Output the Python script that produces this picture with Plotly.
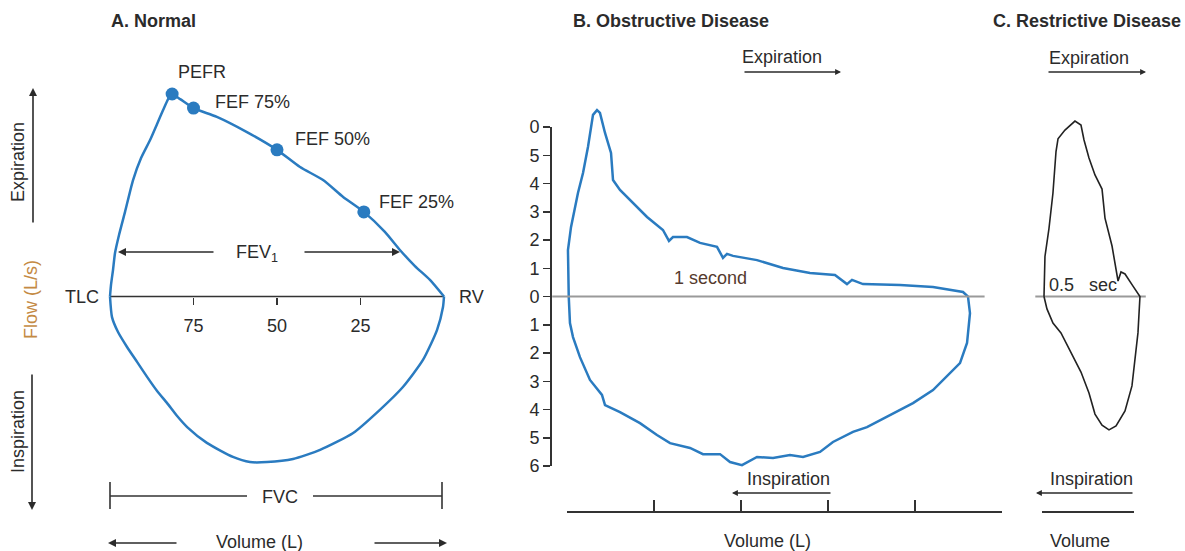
import plotly.graph_objects as go

W, H = 1185, 551
FONT = "Liberation Sans, Arial, sans-serif"
TXT = "#2b2b2b"
BLUE = "#2a7bc0"


def px(x):
    return x / W


def py(y):
    return 1 - y / H


# ---------------- data ----------------
# Panel A (normal): volume in % of FVC (100 = TLC, 0 = RV), flow in L/s
a_exp_vol = [100, 99.7, 99.1, 98.5, 97.3, 95.5, 93.1, 90.7, 88.0, 85.9, 84.1, 82.6, 81.4,
             79.0, 75.0, 68.0, 59.0, 50.0, 43.1, 36.2, 30.2, 24.0, 17.7, 13.2, 8.7, 4.2, 0]
a_exp_flow = [0, 0.41, 0.94, 1.54, 2.18, 3.0, 4.13, 4.91, 5.55, 6.12, 6.61, 7.0, 7.18,
              7.0, 6.68, 6.37, 5.83, 5.20, 4.59, 4.13, 3.53, 3.0, 2.29, 1.65, 1.08, 0.59, 0]
a_insp_vol = [100, 99.4, 97.6, 94.9, 91.9, 88.9, 85.9, 82.9, 79.9, 76.9, 71.0, 63.2, 58.1,
              53.0, 45.2, 37.1, 27.2, 19.2, 12.3, 6.3, 2.1, 0.3, 0]
a_insp_flow = [0, -0.73, -1.26, -1.79, -2.32, -2.85, -3.35, -3.78, -4.24, -4.63, -5.19, -5.69,
               -5.87, -5.87, -5.76, -5.44, -4.84, -4.02, -3.21, -2.25, -1.19, -0.37, 0]
a_point_names = ["PEFR", "FEF 75%", "FEF 50%", "FEF 25%"]
a_point_vol = [81.4, 75.0, 50.0, 24.0]
a_point_flow = [7.18, 6.68, 5.20, 3.00]
a_tick_vals = [75, 50, 25]
a_zero_vol = [100, 0]

# Panel B (obstructive): volume in L from TLC, flow in L/s
b_vol = [0.02, 0.011, 0.011, 0.046, 0.080, 0.126, 0.184, 0.241, 0.299, 0.345, 0.379, 0.437,
         0.506, 0.529, 0.609, 0.759, 0.920, 1.103, 1.172, 1.218, 1.379, 1.529, 1.724, 1.793,
         1.839, 1.908, 2.184, 2.483, 2.793, 3.080, 3.218, 3.276, 3.402, 3.828, 4.207, 4.552,
         4.609, 4.632, 4.598, 4.517, 4.402, 4.207, 3.977, 3.713, 3.448, 3.287, 3.057, 2.908,
         2.713, 2.563, 2.368, 2.184, 2.011, 1.874, 1.759, 1.563, 1.414, 1.184, 1.034, 0.839,
         0.609, 0.437, 0.402, 0.264, 0.149, 0.069, 0.034, 0.02]
b_flow = [0, 0.94, 1.65, 2.46, 2.96, 3.67, 4.38, 5.30, 6.44, 6.61, 6.51, 5.80,
          5.09, 4.13, 3.78, 3.32, 2.82, 2.36, 1.97, 2.11, 2.11, 1.90, 1.76, 1.37,
          1.51, 1.44, 1.29, 1.01, 0.83, 0.76, 0.44, 0.59, 0.44, 0.41, 0.34, 0.16,
          0, -0.59, -1.65, -2.36, -2.71, -3.32, -3.78, -4.20, -4.63, -4.80, -5.16, -5.51,
          -5.69, -5.62, -5.73, -5.69, -5.98, -5.87, -5.59, -5.59, -5.37, -5.20, -4.91, -4.49,
          -4.10, -3.85, -3.49, -2.96, -2.15, -1.44, -0.94, 0]
b_flow_ticks = [-6, -5, -4, -3, -2, -1, 0, 1, 2, 3, 4, 5, 6]
b_flow_ticktext = ["6", "5", "4", "3", "2", "1", "0", "1", "2", "3", "4", "5", "0"]
b_vol_ticks = [0, 1, 2, 3, 4, 5]
b_zero_vol = [-0.17, 4.80]

# Panel C (restrictive): volume in L, flow in L/s
c_vol = [0, 0.011, 0.057, 0.103, 0.138, 0.161, 0.241, 0.356, 0.425, 0.460, 0.517, 0.586,
         0.667, 0.701, 0.782, 0.828, 0.851, 0.885, 0.931, 1.023, 1.103, 1.080, 1.046, 1.011,
         0.931, 0.828, 0.747, 0.667, 0.586, 0.517, 0.425, 0.299, 0.195, 0.103, 0.034, 0]
c_flow = [0, 1.42, 2.41, 3.67, 5.14, 5.59, 5.90, 6.22, 6.08, 5.55, 4.91, 4.31,
          3.81, 2.78, 1.79, 1.05, 0.55, 0.87, 0.80, 0.37, 0, -1.29, -2.18, -3.17,
          -4.06, -4.59, -4.73, -4.56, -4.17, -3.42, -2.68, -1.93, -1.29, -0.94, -0.44, 0]
c_zero_vol = [-0.10, 1.17]
c_bracket_ticks = [0, 1]

# ---------------- scales (layout only) ----------------
ZERO_PX, FLOW_PX = 296.5, 28.2
y_range = [(ZERO_PX - H) / FLOW_PX, ZERO_PX / FLOW_PX]


def a_vol_at(p):
    return 100 - (p - 110) / 3.34


def b_vol_at(p):
    return (p - 567) / 87.0


def c_vol_at(p):
    return (p - 1044) / 87.0


fig = go.Figure()
common = dict(hoverinfo="skip", showlegend=False)

# Panel A
fig.add_trace(go.Scatter(x=a_zero_vol, y=[0, 0], mode="lines",
                         line=dict(color="#333333", width=1.5), xaxis="x", yaxis="y", **common))
fig.add_trace(go.Scatter(x=a_exp_vol, y=a_exp_flow, mode="lines",
                         line=dict(color=BLUE, width=2.5, shape="spline", smoothing=0.6),
                         xaxis="x", yaxis="y", **common))
fig.add_trace(go.Scatter(x=a_insp_vol, y=a_insp_flow, mode="lines",
                         line=dict(color=BLUE, width=2.5, shape="spline", smoothing=0.6),
                         xaxis="x", yaxis="y", **common))
fig.add_trace(go.Scatter(x=a_point_vol, y=a_point_flow, mode="markers",
                         marker=dict(color=BLUE, size=13), xaxis="x", yaxis="y", **common))

# Panel B
fig.add_trace(go.Scatter(x=b_zero_vol, y=[0, 0], mode="lines",
                         line=dict(color="#9a9a9a", width=2), xaxis="x2", yaxis="y2", **common))
fig.add_trace(go.Scatter(x=b_vol, y=b_flow, mode="lines",
                         line=dict(color=BLUE, width=2.5), xaxis="x2", yaxis="y", **common))
fig.add_trace(go.Scatter(x=b_vol_ticks, y=[None] * len(b_vol_ticks), mode="markers",
                         marker=dict(opacity=0), xaxis="x3", yaxis="y", **common))

# Panel C
fig.add_trace(go.Scatter(x=c_zero_vol, y=[0, 0], mode="lines",
                         line=dict(color="#9a9a9a", width=2), xaxis="x5", yaxis="y", **common))
fig.add_trace(go.Scatter(x=c_vol, y=c_flow, mode="lines",
                         line=dict(color="#222222", width=1.6), xaxis="x5", yaxis="y", **common))
fig.add_trace(go.Scatter(x=c_bracket_ticks, y=[None] * len(c_bracket_ticks), mode="markers",
                         marker=dict(opacity=0), xaxis="x4", yaxis="y", **common))

hidden = dict(visible=False, showgrid=False, zeroline=False, fixedrange=True, automargin=False)

fig.update_layout(
    template="none",
    width=W, height=H, autosize=False,
    margin=dict(l=0, r=0, t=0, b=0, pad=0, autoexpand=False),
    paper_bgcolor="white", plot_bgcolor="rgba(0,0,0,0)",
    showlegend=False,
    font=dict(family=FONT, size=18, color=TXT),
    yaxis=dict(domain=[0, 1], range=y_range, **hidden),
    xaxis=dict(domain=[px(60), px(480)], range=[a_vol_at(60), a_vol_at(480)],
               anchor="free", position=py(ZERO_PX), automargin=False,
               showline=False, showgrid=False, zeroline=False,
               tickmode="array", tickvals=a_tick_vals, ticktext=[str(v) for v in a_tick_vals],
               ticks="outside", ticklen=7, tickwidth=1.5, tickcolor="#333333",
               ticklabelstandoff=6,
               tickfont=dict(family=FONT, size=18, color=TXT)),
    xaxis2=dict(domain=[px(552), px(1002)], range=[b_vol_at(552), b_vol_at(1002)],
                anchor="y", **hidden),
    yaxis2=dict(domain=[py(466), py(127)], range=[-6, 6], anchor="x2", side="left",
                automargin=False,
                showline=True, linecolor="#333333", linewidth=2,
                showgrid=False, zeroline=False,
                tickmode="array", tickvals=b_flow_ticks, ticktext=b_flow_ticktext,
                ticks="outside", ticklen=7, tickwidth=1.5, tickcolor="#333333",
                tickfont=dict(family=FONT, size=18, color=TXT)),
    xaxis3=dict(domain=[px(567), px(1002)], range=[0, 5], anchor="free", position=py(512),
                automargin=False,
                showline=True, linecolor="#333333", linewidth=2,
                showgrid=False, zeroline=False, showticklabels=False,
                tickmode="array", tickvals=b_vol_ticks,
                ticks="inside", ticklen=11, tickwidth=1.5, tickcolor="#333333"),
    xaxis4=dict(domain=[px(1042), px(1134)], range=[0, 1], anchor="free", position=py(512),
                automargin=False,
                showline=True, linecolor="#333333", linewidth=2,
                showgrid=False, zeroline=False, showticklabels=False,
                tickmode="array", tickvals=c_bracket_ticks,
                ticks="inside", ticklen=10, tickwidth=1.5, tickcolor="#333333"),
    xaxis5=dict(domain=[px(1020), px(1160)], range=[c_vol_at(1020), c_vol_at(1160)],
                anchor="y", **hidden),
)

ann = []


def text(t, x, y, xanchor="center", size=18, bold=False, color=TXT, angle=0):
    ann.append(dict(text=f"<b>{t}</b>" if bold else t, x=px(x), y=py(y), xref="paper",
                    yref="paper", xanchor=xanchor, yanchor="middle", showarrow=False,
                    textangle=angle, font=dict(family=FONT, size=size, color=color)))


def arrow(x_head, y_head, x_tail, y_tail, width=1.6, size=1.0):
    ann.append(dict(text="", x=px(x_head), y=py(y_head), xref="paper", yref="paper",
                    ax=x_tail - x_head, ay=y_tail - y_head, axref="pixel", ayref="pixel",
                    showarrow=True, arrowhead=2, arrowsize=size, arrowwidth=width,
                    arrowcolor="#2b2b2b", standoff=0, startstandoff=0))


# titles
text("A. Normal", 153, 21, bold=True)
text("B. Obstructive Disease", 671, 21, bold=True)
text("C. Restrictive Disease", 1183, 21, xanchor="right", bold=True)

# Panel A labels
text(a_point_names[0], 202, 72)
text(a_point_names[1], 213, 102, xanchor="left")
text(a_point_names[2], 293, 139, xanchor="left")
text(a_point_names[3], 377, 202, xanchor="left")
text("FEV<sub>1</sub>", 257, 254)
arrow(118, 252, 215, 252)
arrow(400, 252, 303, 252)
text("TLC", 82, 297)
text("RV", 457, 297, xanchor="left")
text("FVC", 280, 497)
text("Volume (L)", 259, 542)
arrow(108, 543, 178, 543)
arrow(447, 543, 373, 543)
text("Expiration", 18, 162, angle=-90)
arrow(33, 88, 33, 224)
text("Flow (L/s)", 31, 299, angle=-90, color="#c48a44")
text("Inspiration", 18, 432, angle=-90)
arrow(32, 510, 32, 373)

# FVC bracket
shapes = []
for x0, x1 in [(110, 247), (313, 442)]:
    shapes.append(dict(type="line", xref="paper", yref="paper", x0=px(x0), x1=px(x1),
                       y0=py(496), y1=py(496), line=dict(color="#333333", width=1.6)))
for xb in [110, 442]:
    shapes.append(dict(type="line", xref="paper", yref="paper", x0=px(xb), x1=px(xb),
                       y0=py(482), y1=py(509), line=dict(color="#333333", width=1.6)))

# Panel B labels
text("Expiration", 782, 57)
arrow(841, 72, 743, 72, width=1.3, size=0.9)
text("1 second", 710, 278, color="#553a2e")
text("Inspiration", 788, 479)
arrow(732, 493, 832, 493, width=1.3, size=0.9)
text("Volume (L)", 767, 541)

# Panel C labels
text("Expiration", 1089, 58)
arrow(1146, 72, 1047, 72, width=1.3, size=0.9)
text("0.5\u00a0\u00a0 sec", 1083, 285)
text("Inspiration", 1091, 479)
arrow(1036, 493, 1134, 493, width=1.3, size=0.9)
text("Volume", 1080, 541)

fig.update_layout(annotations=ann, shapes=shapes)
fig.write_html(
    "out.html",
    config={"displayModeBar": False, "staticPlot": True},
    post_script="document.body.style.margin='0px';document.body.style.overflow='hidden';",
)
